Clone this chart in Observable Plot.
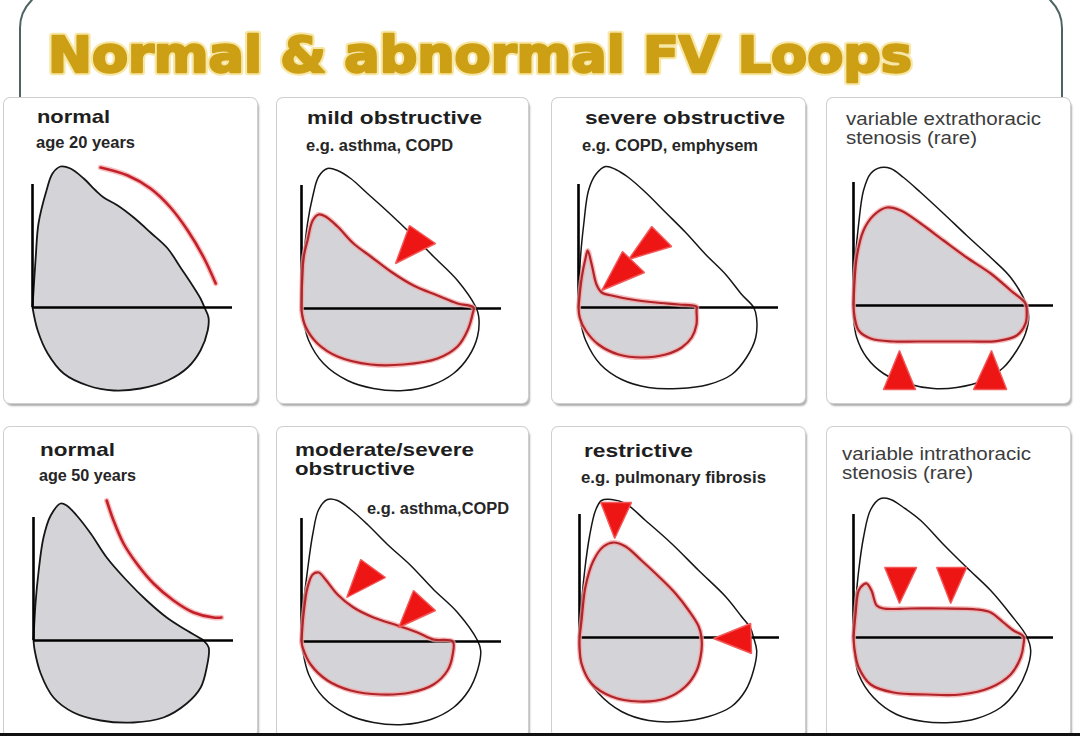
<!DOCTYPE html>
<html>
<head>
<meta charset="utf-8">
<script src="https://cdn.jsdelivr.net/npm/d3@7"></script>
<script src="https://cdn.jsdelivr.net/npm/@observablehq/plot@0.6"></script>
<style>
html,body{margin:0;padding:0;background:#fff;}
#page{position:relative;width:1080px;height:736px;overflow:hidden;background:#fff;}
#frameClip{position:absolute;left:0;top:0;width:1080px;height:100px;overflow:hidden;}
#frame{position:absolute;left:19px;top:-12px;width:1044px;height:220px;box-sizing:border-box;border:2px solid #4e6464;border-radius:40px;}
.panel{position:absolute;background:#fff;border-radius:6px;box-shadow:0 0 0 1px #cfcfcf, 2px 3px 2px rgba(0,0,0,0.32);}
.panel svg{position:absolute;left:0;top:0;}
#strip{position:absolute;left:0;top:733px;width:1080px;height:3px;background:#111;}
</style>
</head>
<body>
<div id="page">
  <div id="frameClip"><div id="frame"></div></div>
</div>
<script>
// ---------- text ----------
const chartTitle = "Normal & abnormal FV Loops";
const panelLabels = [
  ["normal", "age 20 years"],
  ["mild obstructive", "e.g. asthma, COPD"],
  ["severe obstructive", "e.g. COPD, emphysem"],
  ["variable extrathoracic", "stenosis (rare)"],
  ["normal", "age 50 years"],
  ["moderate/severe", "obstructive", "e.g. asthma,COPD"],
  ["restrictive", "e.g. pulmonary fibrosis"],
  ["variable intrathoracic", "stenosis (rare)"]
];

// ---------- data: [volume (L), flow (L/s)] ----------
const axisVolumeEnd = 5.0;
const axisFlowTop = 6.15;

const normal20Loop = [[0,0],[0.08,2.5],[0.15,4.2],[0.35,5.85],[0.5,6.7],[0.7,7.05],[0.95,6.95],[1.28,6.45],[1.58,5.85],[1.78,5.5],[2.13,5.1],[2.53,4.5],[2.95,3.75],[3.38,2.95],[3.7,2.0],[4.0,1.1],[4.2,0.45],[4.3,0],[4.4,-0.5],[4.38,-1.15],[4.2,-2.15],[3.88,-3.0],[3.38,-3.65],[2.7,-4.05],[2.03,-4.15],[1.38,-3.9],[0.78,-3.3],[0.38,-2.3],[0.13,-1.15],[0,0]];
const normal20Arc = [[1.7,7.0],[2.38,6.6],[2.95,5.95],[3.45,5.0],[3.88,3.85],[4.28,2.5],[4.58,1.2]];

const mildRef = [[0,0],[0.06,2.6],[0.15,4.25],[0.28,5.6],[0.43,6.6],[0.65,7.0],[0.9,6.9],[1.23,6.5],[1.65,5.75],[2.15,4.85],[2.73,3.75],[3.3,2.6],[3.9,1.4],[4.35,0.1],[4.43,-0.4],[4.4,-1.4],[4.18,-2.4],[3.8,-3.25],[3.23,-3.85],[2.55,-4.1],[1.8,-4.0],[1.15,-3.6],[0.55,-2.75],[0.18,-1.6],[0.03,-0.4],[0,0]];
const mildLoop = [[0,0],[0.05,2.5],[0.15,3.4],[0.28,4.4],[0.43,4.7],[0.6,4.6],[0.9,4.1],[1.3,3.25],[1.73,2.6],[2.23,1.85],[2.8,1.15],[3.4,0.65],[3.9,0.25],[4.3,0.05],[4.28,-0.25],[4.15,-1.1],[3.9,-1.9],[3.4,-2.5],[2.55,-2.8],[1.73,-2.8],[0.9,-2.4],[0.4,-1.75],[0.1,-0.9],[0,-0.1],[0,0]];
const mildArrows = [[[2.7,4.15],[3.35,3.25],[2.35,2.25]]];

const severeRef = [[0,0],[0.05,2.5],[0.13,4.15],[0.25,5.85],[0.43,6.65],[0.68,7.05],[0.93,6.9],[1.25,6.5],[1.68,5.75],[2.18,4.75],[2.68,3.75],[3.18,2.65],[3.68,1.65],[4.08,0.65],[4.38,0],[4.45,-0.5],[4.43,-1.5],[4.2,-2.5],[3.83,-3.35],[3.25,-3.85],[2.5,-4.05],[1.75,-4.0],[1.08,-3.6],[0.55,-2.85],[0.18,-1.65],[0.03,-0.5],[0,0]];
const severeLoop = [[0,0],[0.08,1.5],[0.18,2.5],[0.23,2.85],[0.33,2.15],[0.45,1.15],[0.58,0.75],[0.83,0.6],[1.33,0.4],[1.93,0.25],[2.5,0.15],[2.95,0.05],[2.95,-0.15],[2.95,-0.85],[2.83,-1.5],[2.58,-2.0],[2.18,-2.35],[1.58,-2.5],[1.0,-2.35],[0.5,-1.85],[0.18,-1.15],[0.03,-0.5],[0,0]];
const severeArrows = [[[1.83,4.05],[2.33,3.05],[1.25,2.4]],[[1.1,2.8],[1.65,1.75],[0.58,0.85]]];

const extraRef = [[0,0],[0.05,2.4],[0.13,4.1],[0.25,5.75],[0.43,6.6],[0.68,6.9],[0.93,6.85],[1.25,6.4],[1.68,5.65],[2.25,4.6],[2.83,3.5],[3.43,2.4],[3.93,1.4],[4.33,0],[4.38,-0.6],[4.3,-1.4],[4.08,-2.25],[3.75,-3.1],[3.25,-3.75],[2.58,-4.1],[2.0,-4.15],[1.33,-3.9],[0.75,-3.4],[0.33,-2.6],[0.08,-1.6],[0,-0.6],[0,0]];
const extraLoop = [[0,0],[0.08,2.4],[0.25,3.75],[0.5,4.5],[0.83,4.9],[1.18,4.75],[1.68,4.1],[2.25,3.25],[2.83,2.4],[3.43,1.6],[3.93,0.75],[4.3,0.1],[4.33,-0.25],[4.3,-0.9],[4.08,-1.5],[3.58,-1.78],[2.9,-1.8],[2.25,-1.8],[1.6,-1.8],[1.0,-1.8],[0.43,-1.65],[0.13,-1.25],[0.03,-0.6],[0,0]];
const extraArrows = [[[1.15,-2.25],[0.75,-4.2],[1.55,-4.2]],[[3.45,-2.25],[3.0,-4.2],[3.83,-4.2]]];

const normal50Loop = [[0,0],[0.05,1.85],[0.13,3.5],[0.25,5.15],[0.43,6.25],[0.68,6.85],[0.83,6.75],[1.08,6.25],[1.43,5.35],[1.83,4.15],[2.33,3.0],[2.83,2.0],[3.33,1.15],[3.75,0.6],[4.18,0.1],[4.25,0],[4.38,-0.35],[4.33,-1.35],[4.18,-2.35],[3.83,-3.15],[3.25,-3.85],[2.5,-4.1],[1.68,-4.0],[1.0,-3.6],[0.5,-2.85],[0.18,-1.65],[0.03,-0.5],[0,0]];
const normal50Arc = [[1.83,7.0],[2.0,6.0],[2.25,4.85],[2.58,3.85],[3.0,2.85],[3.5,2.0],[4.0,1.4],[4.5,1.15],[4.7,1.15]];

const moderateRef = [[0,0],[0.05,1.85],[0.15,3.55],[0.28,5.35],[0.43,6.6],[0.65,7.1],[0.9,7.05],[1.23,6.6],[1.65,5.85],[2.15,4.85],[2.73,3.8],[3.3,2.6],[3.9,1.45],[4.4,0.05],[4.48,-0.45],[4.4,-1.45],[4.18,-2.45],[3.8,-3.3],[3.23,-3.9],[2.55,-4.15],[1.8,-4.05],[1.15,-3.65],[0.55,-2.8],[0.18,-1.65],[0.03,-0.45],[0,0]];
const moderateLoop = [[0,0],[0.05,1.35],[0.15,2.7],[0.28,3.35],[0.43,3.45],[0.6,3.1],[0.9,2.35],[1.3,1.7],[1.8,1.2],[2.4,0.8],[2.9,0.45],[3.3,0.1],[3.78,0],[3.78,-0.65],[3.65,-1.45],[3.3,-2.15],[2.73,-2.55],[1.98,-2.65],[1.23,-2.45],[0.65,-1.95],[0.23,-1.15],[0.03,-0.3],[0,0]];
const moderateArrows = [[[1.48,4.1],[2.1,3.2],[1.13,2.2]],[[2.8,2.55],[3.35,1.55],[2.43,0.7]]];

const restrictRef = [[0,0],[0.05,1.7],[0.13,3.35],[0.25,5.05],[0.4,6.35],[0.55,6.85],[0.8,6.9],[1.15,6.7],[1.65,5.85],[2.3,4.7],[2.98,3.35],[3.65,2.05],[4.05,1.05],[4.28,0.45],[4.35,0],[4.43,-0.65],[4.35,-1.65],[4.15,-2.65],[3.8,-3.45],[3.23,-3.95],[2.48,-4.2],[1.73,-4.15],[1.05,-3.7],[0.48,-2.8],[0.1,-1.65],[0,-0.65],[0,0]];
const restrictLoop = [[0,0],[0.05,0.85],[0.15,2.55],[0.35,3.85],[0.6,4.55],[0.85,4.75],[1.15,4.55],[1.55,3.85],[1.98,3.05],[2.4,2.2],[2.73,1.35],[2.98,0.55],[3.05,0],[3.05,-0.65],[2.93,-1.65],[2.65,-2.45],[2.15,-3.05],[1.48,-3.2],[0.8,-2.95],[0.3,-2.3],[0.05,-1.3],[0,-0.45],[0,0]];
const restrictArrows = [[[0.53,6.75],[1.3,6.75],[0.88,4.95]],[[3.35,-0.05],[4.28,0.7],[4.3,-0.8]]];

const intraRef = [[0,0],[0.05,1.65],[0.13,3.35],[0.25,5.0],[0.43,6.4],[0.68,6.95],[0.93,6.9],[1.25,6.5],[1.68,5.85],[2.25,4.65],[2.83,3.5],[3.43,2.35],[3.93,1.15],[4.33,0.05],[4.43,-0.65],[4.33,-1.65],[4.08,-2.65],[3.68,-3.5],[3.08,-4.05],[2.43,-4.25],[1.75,-4.2],[1.08,-3.85],[0.5,-3.0],[0.13,-1.85],[0.03,-0.85],[0,0]];
const intraLoop = [[0,0],[0.05,1.15],[0.13,2.35],[0.25,2.65],[0.33,2.7],[0.45,2.35],[0.58,1.6],[0.75,1.45],[1.43,1.45],[2.25,1.45],[3.08,1.4],[3.43,1.25],[3.75,0.75],[4.0,0.35],[4.25,0.05],[4.25,-0.35],[4.18,-1.0],[3.93,-1.85],[3.43,-2.5],[2.68,-2.85],[1.83,-2.85],[1.0,-2.75],[0.43,-2.35],[0.13,-1.5],[0.03,-0.65],[0,0]];
const intraArrows = [[[0.78,3.5],[1.58,3.5],[1.15,1.7]],[[2.08,3.5],[2.83,3.5],[2.43,1.7]]];

// ---------- layout (positions & styles, not data) ----------
const panelSpecs = [
  {loop: normal20Loop, arc: normal20Arc},
  {ref: mildRef, loop: mildLoop, red: true, arrows: mildArrows},
  {ref: severeRef, loop: severeLoop, red: true, arrows: severeArrows},
  {ref: extraRef, loop: extraLoop, red: true, arrows: extraArrows},
  {loop: normal50Loop, arc: normal50Arc},
  {ref: moderateRef, loop: moderateLoop, red: true, arrows: moderateArrows},
  {ref: restrictRef, loop: restrictLoop, red: true, arrows: restrictArrows},
  {ref: intraRef, loop: intraLoop, red: true, arrows: intraArrows}
];
// left, top, width, height, originX, originY (px inside panel)
const panelBoxes = [
  [4,98,253,305,28,209],[277,98,251,305,24,210],[552,98,253,305,26,209],[827,98,243,305,26,207],
  [4,427,253,310,29,213],[277,427,251,310,24,214],[552,427,253,310,27,210],[827,427,243,310,26,210]
];
// x, baseline, style, fitted width for each label
const labelBoxes = [
  [[37,123,"b",73],[36,148,"n",99]],
  [[307,124,"b",175],[306,151,"n",147]],
  [[585,124,"b",200],[582,151,"n",176]],
  [[846,125,"r",195],[846,144,"r",131]],
  [[40,456,"b",75],[39,481,"n",97]],
  [[295,456,"b",179],[295,475,"b",120],[367,514,"n",142]],
  [[584,457,"b",109],[581,483,"n",185]],
  [[842,460,"r",189],[842,479,"r",131]]
];
const labelStyles = {
  b: {size: 18.5, weight: "bold", family: "'Liberation Sans', Arial, sans-serif", fill: "#1e1e1e"},
  n: {size: 16, weight: "bold", family: "'Liberation Sans Narrow', 'Liberation Sans', sans-serif", fill: "#262626"},
  r: {size: 17.5, weight: "normal", family: "'Liberation Sans', Arial, sans-serif", fill: "#3c3c3c"}
};

const PX_PER_L = 40, PX_PER_LS = 20;
const GRAY = "#d4d4d8", INK = "#161616", RED = "#b0242a", GLOW = "#f4a4a4", ARROW = "#ee1515";

const page = document.getElementById("page");
const pts = a => a.map(([volume, flow]) => ({volume, flow}));
const tris = a => a.flatMap((t, k) => t.map(([volume, flow]) => ({volume, flow, id: k})));

panelBoxes.forEach(([left, top, w, h, ox, oy], i) => {
  const spec = panelSpecs[i];
  const div = document.createElement("div");
  div.className = "panel";
  Object.assign(div.style, {left: left + "px", top: top + "px", width: w + "px", height: h + "px"});
  const loop = pts(spec.loop);
  const marks = [];
  if (spec.red) {
    marks.push(Plot.line(loop, {x: "volume", y: "flow", curve: "catmull-rom", fill: GRAY, stroke: "none"}));
  } else {
    marks.push(Plot.line(loop, {x: "volume", y: "flow", curve: "catmull-rom", fill: GRAY, stroke: INK, strokeWidth: 1.8}));
  }
  if (spec.ref) {
    marks.push(Plot.line(pts(spec.ref), {x: "volume", y: "flow", curve: "catmull-rom", stroke: INK, strokeWidth: 1.5}));
  }
  marks.push(Plot.ruleX([{volume: 0, lo: 0, hi: axisFlowTop}], {x: "volume", y1: "lo", y2: "hi", stroke: "#000", strokeWidth: 2.6}));
  marks.push(Plot.ruleY([{flow: 0, from: 0, to: axisVolumeEnd}], {y: "flow", x1: "from", x2: "to", stroke: "#000", strokeWidth: 2.6}));
  if (spec.red) {
    marks.push(Plot.line(loop, {x: "volume", y: "flow", curve: "catmull-rom", stroke: GLOW, strokeWidth: 5, strokeOpacity: 0.75}));
    marks.push(Plot.line(loop, {x: "volume", y: "flow", curve: "catmull-rom", stroke: RED, strokeWidth: 2.2}));
  }
  if (spec.arc) {
    const arc = pts(spec.arc);
    marks.push(Plot.line(arc, {x: "volume", y: "flow", curve: "catmull-rom", stroke: GLOW, strokeWidth: 5.5, strokeOpacity: 0.7}));
    marks.push(Plot.line(arc, {x: "volume", y: "flow", curve: "catmull-rom", stroke: "#c3202a", strokeWidth: 2.6}));
  }
  if (spec.arrows) {
    marks.push(Plot.line(tris(spec.arrows), {x: "volume", y: "flow", z: "id", curve: "linear-closed", fill: ARROW, stroke: "#f25a5a", strokeWidth: 1.4, strokeLinejoin: "miter"}));
  }
  const chart = Plot.plot({
    width: w, height: h, margin: 0,
    x: {domain: [-ox / PX_PER_L, (w - ox) / PX_PER_L], axis: null},
    y: {domain: [-(h - oy) / PX_PER_LS, oy / PX_PER_LS], axis: null},
    style: {background: "transparent", overflow: "visible"},
    marks
  });
  div.appendChild(chart);
  page.appendChild(div);
});

// ---------- text overlay ----------
const svg = d3.select(page).append("svg")
  .attr("width", 1080).attr("height", 736)
  .style("position", "absolute").style("left", "0px").style("top", "0px");

const titleFont = "'DejaVu Sans', 'Liberation Sans', sans-serif";
svg.append("text").text(chartTitle)
  .attr("x", 48).attr("y", 72).attr("textLength", 864).attr("lengthAdjust", "spacingAndGlyphs")
  .attr("font-family", titleFont).attr("font-weight", "bold").attr("font-size", 49)
  .attr("fill", "none").attr("stroke", "#f7e7a6").attr("stroke-width", 6.5).attr("stroke-linejoin", "round");
svg.append("text").text(chartTitle)
  .attr("x", 48).attr("y", 72).attr("textLength", 864).attr("lengthAdjust", "spacingAndGlyphs")
  .attr("font-family", titleFont).attr("font-weight", "bold").attr("font-size", 49)
  .attr("fill", "#cd9f14").attr("stroke", "#cd9f14").attr("stroke-width", 2.4).attr("stroke-linejoin", "round");

panelLabels.forEach((lines, i) => {
  lines.forEach((str, j) => {
    const [x, y, st, tw] = labelBoxes[i][j];
    const s = labelStyles[st];
    svg.append("text").text(str)
      .attr("x", x).attr("y", y)
      .attr("textLength", tw).attr("lengthAdjust", "spacingAndGlyphs")
      .attr("font-family", s.family).attr("font-weight", s.weight).attr("font-size", s.size)
      .attr("fill", s.fill);
  });
});

const strip = document.createElement("div");
strip.id = "strip";
page.appendChild(strip);
</script>
</body>
</html>
